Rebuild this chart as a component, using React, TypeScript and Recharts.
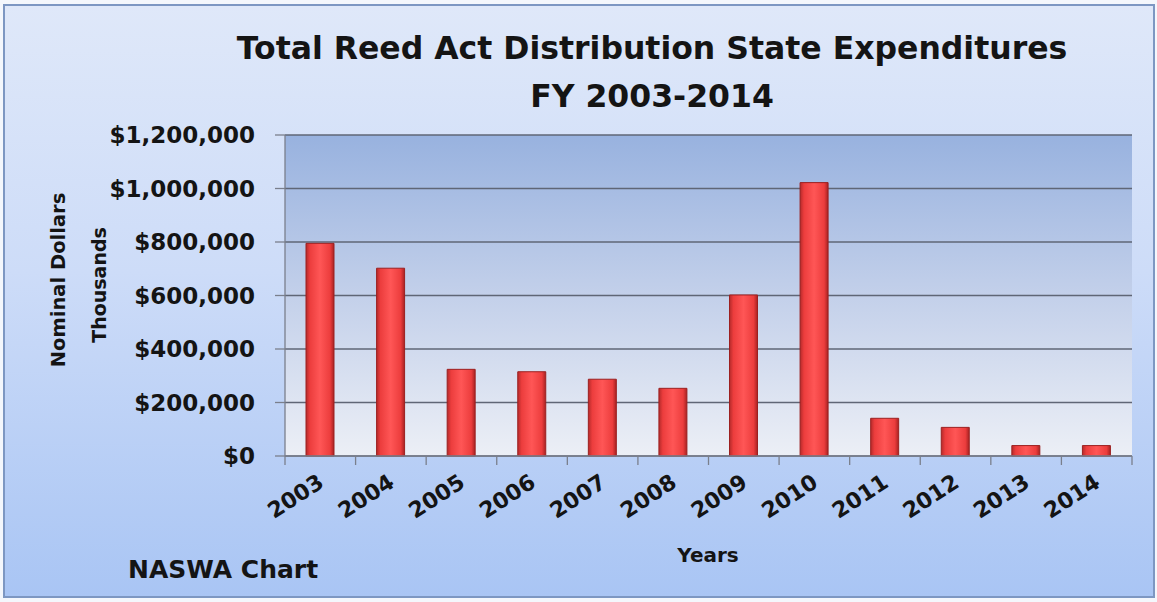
import React from 'react';
import { BarChart, Bar, XAxis, YAxis, CartesianGrid } from 'recharts';

const years = ['2003', '2004', '2005', '2006', '2007', '2008', '2009', '2010', '2011', '2012', '2013', '2014'];
const spending = [795000, 702000, 324000, 315000, 287000, 253000, 602000, 1022000, 141000, 107000, 39000, 39000];
const yTicks = [0, 200000, 400000, 600000, 800000, 1000000, 1200000];

const data = years.map((year, i) => ({ year, value: spending[i] }));

const W = 1157;
const H = 602;
const MARGIN = { top: 135, right: 25, bottom: 0, left: 0 };
const Y_AXIS_W = 285;
const X_AXIS_H = 146;
const BAND = (W - MARGIN.left - MARGIN.right - Y_AXIS_W) / years.length;

const FONT = '"DejaVu Sans", sans-serif';
const INK = '#141414';

const fmtMoney = (v: number) => '$' + v.toLocaleString('en-US');

// tick marks sit between categories, like the Excel original
function YearTick(props: any) {
  const { x, y, payload, index } = props;
  const half = BAND / 2;
  const tx = x + 5;
  const ty = y + 30;
  return (
    <g>
      <line x1={x - half} y1={y} x2={x - half} y2={y + 9} stroke="#7a7f8c" strokeWidth={1.3} />
      {index === years.length - 1 && (
        <line x1={x + half} y1={y} x2={x + half} y2={y + 9} stroke="#7a7f8c" strokeWidth={1.3} />
      )}
      <text
        x={tx}
        y={ty}
        textAnchor="end"
        transform={`rotate(-33 ${tx} ${ty})`}
        fontFamily={FONT}
        fontWeight={700}
        fontSize={22}
        fill={INK}
      >
        {payload.value}
      </text>
    </g>
  );
}

const labelStyle: React.CSSProperties = {
  position: 'absolute',
  fontFamily: FONT,
  fontWeight: 700,
  color: INK,
  whiteSpace: 'nowrap',
};

export default function App() {
  return (
    <div style={{ position: 'absolute', left: 0, top: 0, width: W, height: H, background: '#f4f7fc' }}>
      <div
        style={{
          position: 'absolute',
          left: 3,
          top: 4,
          width: W - 9,
          height: H - 12,
          border: '2px solid #7d97c2',
          background: 'linear-gradient(180deg, #dfe8f9 0%, #cddcf8 45%, #a9c5f4 100%)',
        }}
      />
      <div
        style={{
          position: 'absolute',
          left: 0,
          top: 24,
          width: W,
          textAlign: 'center',
          fontFamily: FONT,
          fontWeight: 700,
          fontSize: 31.5,
          lineHeight: '48px',
          color: INK,
          paddingLeft: 147,
          boxSizing: 'border-box',
        }}
      >
        <div>Total Reed Act Distribution State Expenditures</div>
        <div>FY 2003-2014</div>
      </div>
      <div style={{ ...labelStyle, left: 58, top: 280, fontSize: 19.5, transform: 'translate(-50%, -50%) rotate(-90deg)' }}>
        Nominal Dollars
      </div>
      <div style={{ ...labelStyle, left: 99, top: 285, fontSize: 19, transform: 'translate(-50%, -50%) rotate(-90deg)' }}>
        Thousands
      </div>
      <div style={{ ...labelStyle, left: 708, top: 555, fontSize: 20, transform: 'translate(-50%, -50%)' }}>
        Years
      </div>
      <div style={{ ...labelStyle, left: 128, top: 569, fontSize: 25, transform: 'translateY(-50%)' }}>
        NASWA Chart
      </div>
      <div style={{ position: 'absolute', left: 0, top: 0 }}>
        <BarChart width={W} height={H} data={data} margin={MARGIN} barSize={28}>
          <defs>
            <linearGradient id="plotBg" x1="0" y1="0" x2="0" y2="1">
              <stop offset="0%" stopColor="#98b2df" />
              <stop offset="50%" stopColor="#c3d0ea" />
              <stop offset="100%" stopColor="#eceff6" />
            </linearGradient>
            <linearGradient id="barFill" x1="0" y1="0" x2="1" y2="0">
              <stop offset="0%" stopColor="#b52a2a" />
              <stop offset="14%" stopColor="#ec3d3d" />
              <stop offset="50%" stopColor="#ff5656" />
              <stop offset="86%" stopColor="#ec3d3d" />
              <stop offset="100%" stopColor="#a82222" />
            </linearGradient>
          </defs>
          <CartesianGrid vertical={false} fill="url(#plotBg)" stroke="#5f6676" strokeWidth={1.3} />
          <XAxis
            dataKey="year"
            axisLine={{ stroke: '#7a7f8c', strokeWidth: 1.3 }}
            tickLine={false}
            tickSize={0}
            tickMargin={0}
            interval={0}
            tick={<YearTick />}
            height={X_AXIS_H}
          />
          <YAxis
            width={Y_AXIS_W}
            domain={[0, 1200000]}
            ticks={yTicks}
            interval={0}
            tickFormatter={fmtMoney}
            axisLine={{ stroke: '#7a7f8c', strokeWidth: 1.3 }}
            tickLine={{ stroke: '#7a7f8c', strokeWidth: 1.3 }}
            tickSize={10}
            tickMargin={20}
            tick={{ fontFamily: FONT, fontWeight: 700, fontSize: 23, fill: INK }}
          />
          <Bar
            dataKey="value"
            fill="url(#barFill)"
            stroke="#9c2020"
            strokeWidth={1}
            isAnimationActive={false}
          />
        </BarChart>
      </div>
    </div>
  );
}
